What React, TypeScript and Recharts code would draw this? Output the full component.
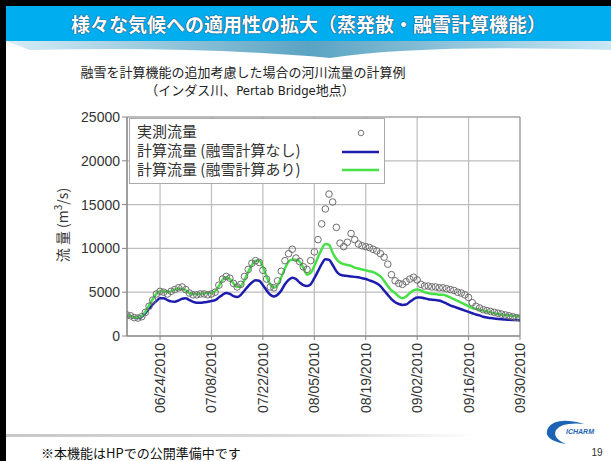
import React from 'react';
import {
  ComposedChart, Line, Scatter, XAxis, YAxis, CartesianGrid, ReferenceArea, Legend,
} from 'recharts';

// Day index 0 = 06/15/2010 ... 107 = 09/30/2010
const observed = [
  2400, 2300, 2100, 2050, 2200, 2700, 3400, 4100, 4800, 5100,
  5000, 4800, 5100, 5300, 5500, 5600, 5300, 4900, 4700, 4700,
  4800, 4800, 4700, 4800, 5000, 5800, 6500, 6800, 6600, 6000,
  5600, 5900, 6800, 7600, 8300, 8600, 8400, 7500, 6500, 5600,
  5500, 6300, 7400, 8600, 9400, 9900, 8900, 8500, 7900, 7600,
  8600, 9600, 11000, 12800, 14500, 16200, 15300, 12400, 10600, 10200,
  10700, 11700, 11000, 10500, 10300, 10200, 10100, 9900, 9700, 9400,
  9000, 8200, 7000, 6300, 6000, 5900, 6200, 6500, 6700, 6400,
  5900, 5700, 5700, 5600, 5600, 5500, 5500, 5400, 5300, 5200,
  5000, 4900, 4700, 4400, 3800, 3400, 3200, 3000, 2900, 2800,
  2700, 2600, 2500, 2400, 2300, 2200, 2100, 2050,
];

const calcWithMelt = [
  2400, 2250, 2100, 2100, 2300, 2800, 3500, 4200, 4800, 5100,
  5100, 5000, 5100, 5300, 5400, 5400, 5200, 4900, 4800, 4800,
  4800, 4900, 4900, 4900, 5100, 5700, 6400, 6700, 6500, 6000,
  5600, 5700, 6400, 7300, 8100, 8600, 8600, 7900, 6800, 5900,
  5500, 5800, 6700, 7700, 8500, 8700, 8700, 8500, 7800, 7000,
  7200, 8000, 9000, 9900, 10500, 10400, 9500, 8800, 8400, 8200,
  8100, 8000, 7800, 7700, 7600, 7500, 7400, 7300, 7100, 6800,
  6300, 5700, 5200, 4900, 4500, 4300, 4500, 4900, 5200, 5300,
  5200, 5000, 4900, 4800, 4800, 4700, 4700, 4600, 4400, 4200,
  4000, 3800, 3600, 3400, 3200, 3100, 3000, 2900, 2800, 2700,
  2600, 2500, 2450, 2400, 2350, 2300, 2250, 2200,
];

const calcNoMelt = [
  2400, 2250, 2100, 2050, 2200, 2600, 3100, 3600, 4000, 4300,
  4300, 4100, 3950, 3900, 4050, 4250, 4300, 4100, 3900, 3800,
  3800, 3850, 3900, 4000, 4100, 4400, 4700, 4900, 4800, 4550,
  4450, 4700, 5200, 5700, 6100, 6350, 6300, 5800, 5200, 4700,
  4500, 4700, 5200, 5900, 6400, 6650, 6500, 6100, 5800, 5700,
  5900, 6600, 7400, 8200, 8750, 8700, 8100, 7400, 7000, 6900,
  6850, 6800, 6750, 6700, 6600, 6500, 6350, 6200, 6000, 5700,
  5200, 4700, 4200, 3850, 3650, 3550, 3600, 3900, 4200, 4400,
  4400, 4300, 4200, 4150, 4100, 4050, 3900, 3700, 3500, 3350,
  3200, 3050, 2900, 2750, 2600, 2450, 2350, 2200, 2100, 2050,
  2000, 1950, 1900, 1880, 1850, 1830, 1820, 1800,
];

const tickDays = [9, 23, 37, 51, 65, 79, 93, 107];
const tickLabels = ['06/24/2010', '07/08/2010', '07/22/2010', '08/05/2010', '08/19/2010', '09/02/2010', '09/16/2010', '09/30/2010'];
const yTicks = [0, 5000, 10000, 15000, 20000, 25000];

const seriesNames = ['実測流量', '計算流量 (融雪計算なし)', '計算流量 (融雪計算あり)'];

const data = observed.map((v, i) => ({
  d: i,
  obs: v,
  noMelt: calcNoMelt[i],
  melt: calcWithMelt[i],
}));

const LATIN = '"Liberation Sans", Arial, sans-serif';
const CJK = '"Noto Sans CJK JP", "Noto Sans", sans-serif';
const BLUE = '#1c1cae';
const GREEN = '#47e047';

const XTick = (props: any) => {
  const { x, y, payload } = props;
  const idx = tickDays.indexOf(payload.value);
  return (
    <text
      x={x + 5}
      y={y + 1}
      transform={`rotate(-90, ${x + 5}, ${y + 1})`}
      textAnchor="end"
      fontFamily={LATIN}
      fontSize={14}
      fill="#333"
    >
      {idx >= 0 ? tickLabels[idx] : ''}
    </text>
  );
};

const LegendBox = () => (
  <div
    style={{
      width: 256,
      height: 66,
      background: '#fff',
      border: '1px solid #aaa',
      position: 'relative',
      fontFamily: CJK,
      fontSize: 15,
      color: '#333',
      boxSizing: 'border-box',
    }}
  >
    {seriesNames.map((n, i) => (
      <div key={n} style={{ position: 'absolute', left: 7, top: 2 + i * 19, lineHeight: '20px', whiteSpace: 'nowrap' }}>
        {n}
      </div>
    ))}
    <svg style={{ position: 'absolute', left: 0, top: 0 }} width={256} height={66}>
      <circle cx={231} cy={14} r={2.8} fill="none" stroke="#777" strokeWidth={1} />
      <line x1={212} x2={249} y1={33} y2={33} stroke={BLUE} strokeWidth={2.5} />
      <line x1={212} x2={249} y1={51} y2={51} stroke={GREEN} strokeWidth={2.5} />
    </svg>
  </div>
);

const Circle = (props: any) => {
  const { cx, cy } = props;
  if (cx == null || cy == null) return null;
  return <circle cx={cx} cy={cy} r={3.3} fill="none" stroke="#6e6e6e" strokeWidth={1} />;
};

export default function App() {
  return (
    <div style={{ position: 'absolute', left: 0, top: 0, width: 611, height: 461, background: '#fff', overflow: 'hidden' }}>
      <svg width={611} height={461} style={{ position: 'absolute', left: 0, top: 0 }}>
        <defs>
          <linearGradient id="wave" x1="0" y1="0" x2="1" y2="0">
            <stop offset="0" stopColor="#cfeaf5" />
            <stop offset="0.5" stopColor="#3d93b8" />
            <stop offset="1" stopColor="#bfe3f2" />
          </linearGradient>
          <linearGradient id="foot" x1="0" y1="0" x2="1" y2="0">
            <stop offset="0" stopColor="#c8c8c8" />
            <stop offset="0.7" stopColor="#dcdcdc" />
            <stop offset="1" stopColor="#ffffff" />
          </linearGradient>
        </defs>
        <rect x={0} y={0} width={611} height={6} fill="#000" />
        <rect x={0} y={0} width={6} height={461} fill="#000" />
        <path d="M6 41 L611 41 L611 50 Q420 44 330 58 Q200 46 30 50 Z" fill="url(#wave)" opacity={0.85} />
        <rect x={6} y={6} width={605} height={35} fill="#00aeef" />
        <rect x={6} y={434} width={470} height={3} fill="url(#foot)" />
        <text
          x={64}
          y={225}
          transform="rotate(-90, 64, 225)"
          textAnchor="middle"
          dominantBaseline="middle"
          fontFamily={CJK}
          fontSize={14}
          fill="#333"
        >
          流 量 (m<tspan dy={-5} fontSize={10}>3</tspan><tspan dy={5}>/s)</tspan>
        </text>
        <path d="M584 424 Q556 416 548 428 Q542 440 566 444 Q552 438 556 430 Q562 422 584 424 Z" fill="#1e64b4" />
        <text x={566} y={434} fontFamily={LATIN} fontSize={7} fontStyle="italic" fontWeight="bold" fill="#1e64b4">ICHARM</text>
        <text x={597} y={456} textAnchor="middle" fontFamily={LATIN} fontSize={10} fill="#333">19</text>
      </svg>

      <div
        style={{
          position: 'absolute', left: 6, top: 6, width: 605, height: 35, display: 'flex', alignItems: 'center', justifyContent: 'center',
          color: '#fff', fontFamily: CJK, fontWeight: 'bold', fontSize: 19, whiteSpace: 'nowrap',
          textShadow: '0 0 1px #235, 0 0 1px #235',
        }}
      >
        様々な気候への適用性の拡大（蒸発散・融雪計算機能）
      </div>
      <div style={{ position: 'absolute', left: 0, width: 486, top: 62, textAlign: 'center', fontFamily: CJK, fontSize: 13, color: '#222', whiteSpace: 'nowrap' }}>
        融雪を計算機能の追加考慮した場合の河川流量の計算例
      </div>
      <div style={{ position: 'absolute', left: 0, width: 500, top: 80, textAlign: 'center', fontFamily: '"Noto Sans CJK JP", "DejaVu Sans Mono", monospace', fontSize: 13, color: '#222', whiteSpace: 'nowrap' }}>
        （インダス川、<span style={{ fontFamily: '"DejaVu Sans Condensed", "Liberation Sans Narrow", sans-serif' }}>Pertab Bridge</span>地点）
      </div>
      <div style={{ position: 'absolute', left: 41, top: 443, fontFamily: CJK, fontSize: 13, color: '#111', whiteSpace: 'nowrap' }}>
        ※本機能はHPでの公開準備中です
      </div>

      <div style={{ position: 'absolute', left: 0, top: 0 }}>
        <ComposedChart
          width={611}
          height={461}
          data={data}
          margin={{ top: 117, right: 91, left: 77, bottom: 55 }}
        >
          <CartesianGrid stroke="#bdbdbd" strokeWidth={1.2} />
          <XAxis
            dataKey="d"
            type="number"
            domain={[0, 107]}
            ticks={tickDays}
            interval={0}
            height={70}
            tick={<XTick />}
            tickSize={4}
            axisLine={{ stroke: '#888' }}
            tickLine={{ stroke: '#888' }}
            allowDataOverflow
          />
          <YAxis
            type="number"
            domain={[0, 25000]}
            ticks={yTicks}
            interval={0}
            width={50}
            tick={{ fontFamily: LATIN, fontSize: 14, fill: '#333' }}
            tickSize={5}
            tickMargin={2}
            axisLine={{ stroke: '#888' }}
            tickLine={{ stroke: '#888' }}
          />
          <ReferenceArea x1={0} x2={107} y1={0} y2={25000} fill="none" stroke="#999" strokeWidth={1} />
          <Line dataKey="noMelt" name={seriesNames[1]} type="monotone" stroke={BLUE} strokeWidth={2.5} dot={false} isAnimationActive={false} />
          <Line dataKey="melt" name={seriesNames[2]} type="monotone" stroke={GREEN} strokeWidth={2.5} dot={false} isAnimationActive={false} />
          <Scatter dataKey="obs" name={seriesNames[0]} shape={<Circle />} isAnimationActive={false} />
          <Legend
            layout="vertical"
            align="center"
            verticalAlign="middle"
            content={<LegendBox />}
            wrapperStyle={{ left: 129, top: 118, width: 256, height: 66 }}
          />
        </ComposedChart>
      </div>
    </div>
  );
}
